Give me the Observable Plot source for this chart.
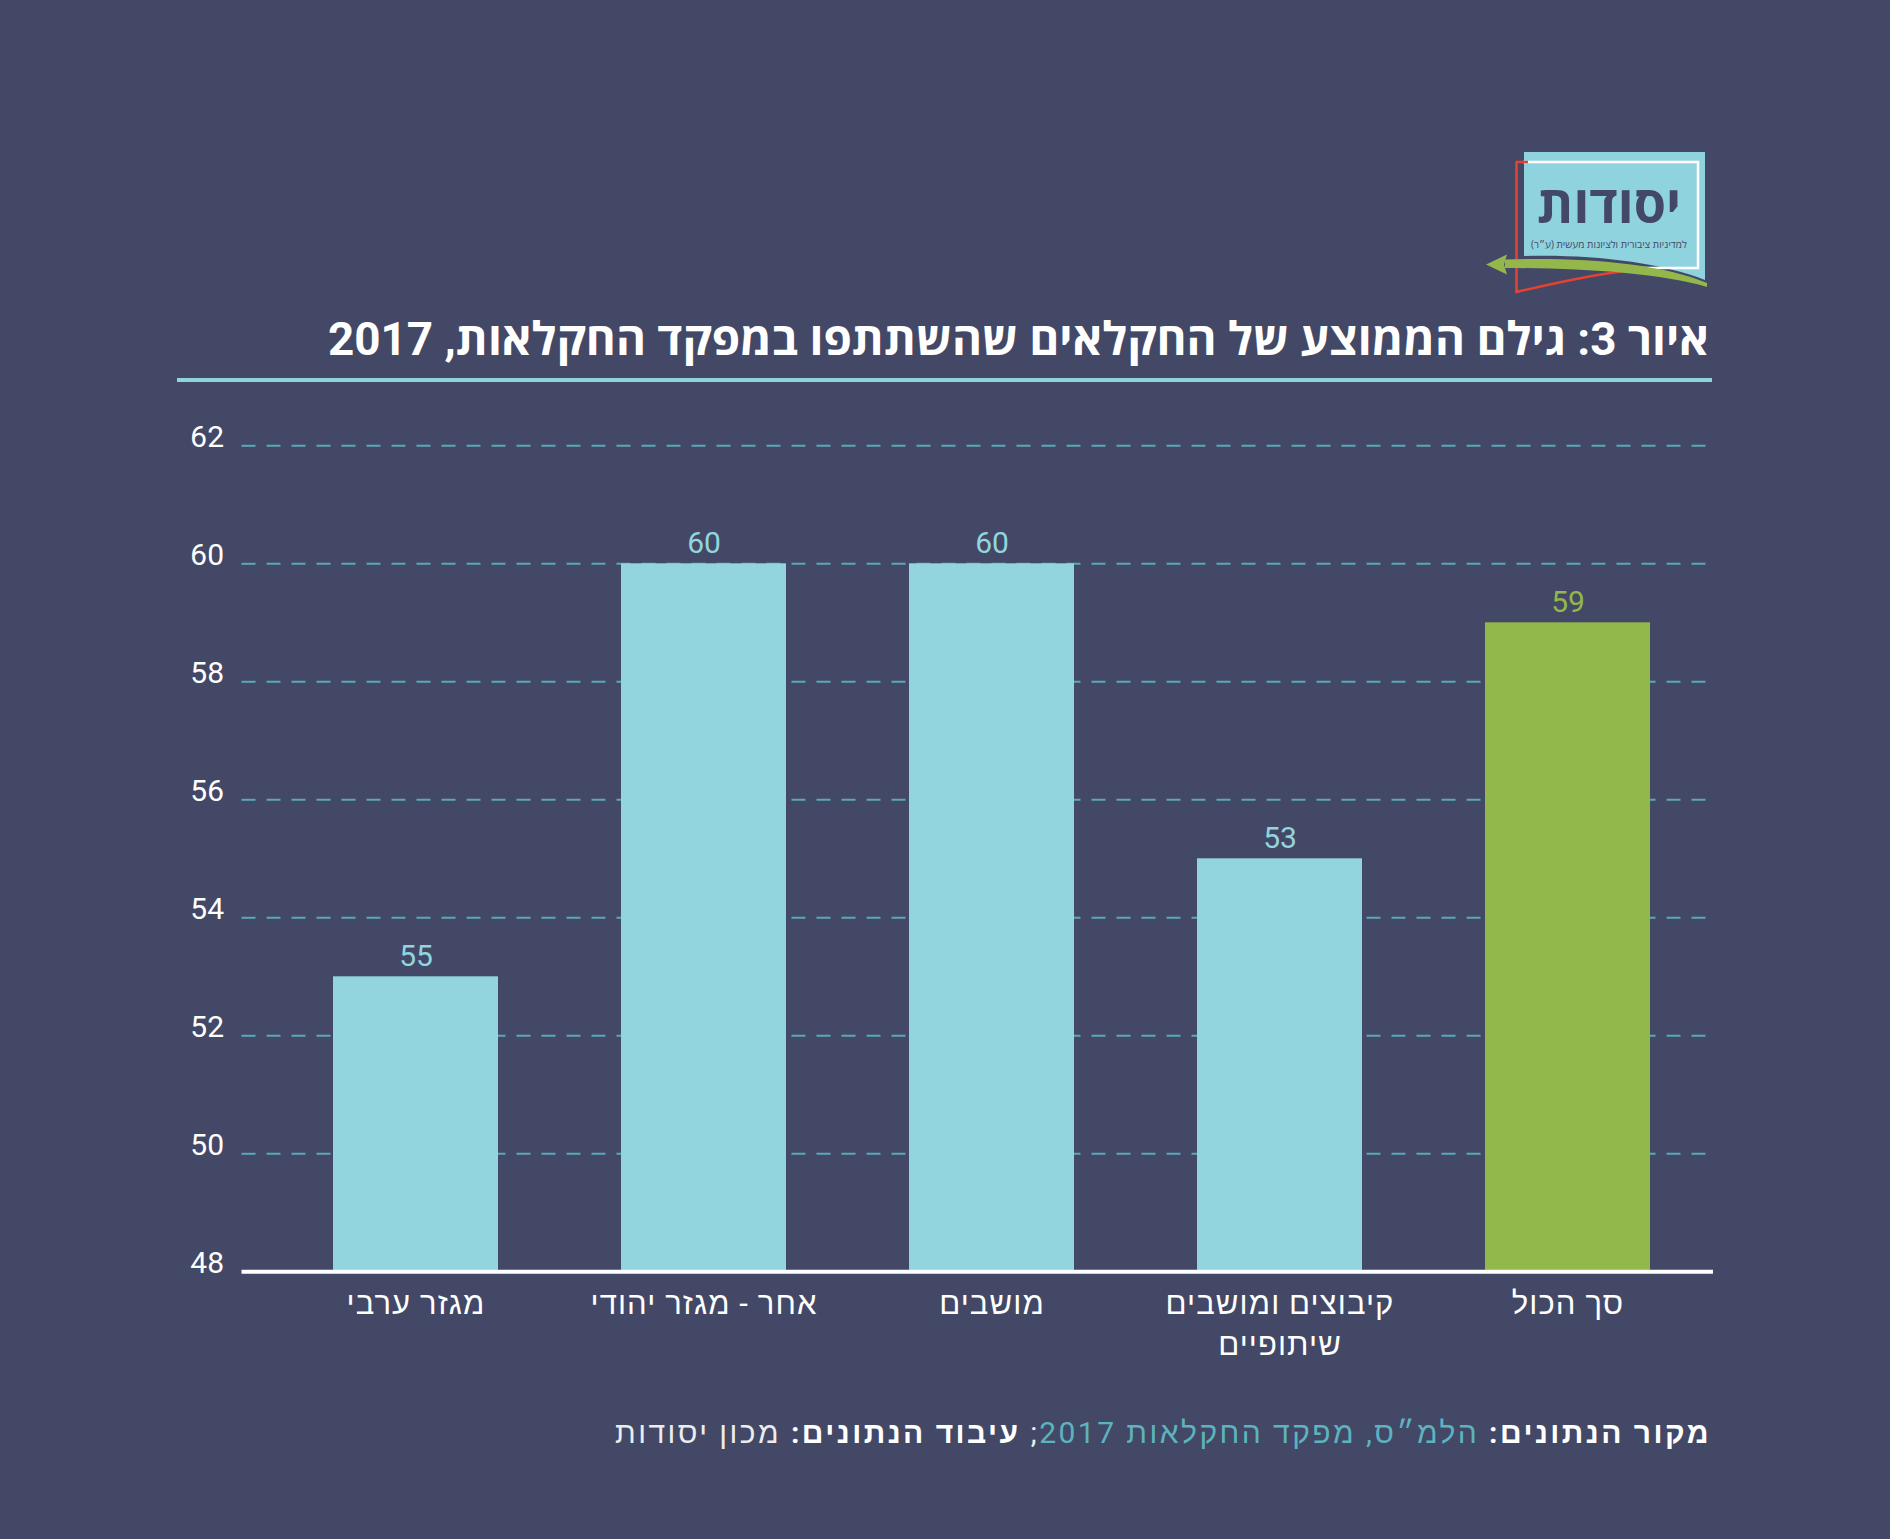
<!DOCTYPE html>
<html lang="he">
<head>
<meta charset="utf-8">
<script src="https://cdn.jsdelivr.net/npm/d3@7"></script>
<script src="https://cdn.jsdelivr.net/npm/@observablehq/plot@0.6"></script>
<style>
  html, body { margin: 0; padding: 0; background: #434867; }
  body { width: 1890px; height: 1539px; position: relative; overflow: hidden;
         font-family: Roboto, "Liberation Sans", sans-serif; }
  #header { position: relative; width: 1890px; height: 400px; }
  #logo { position: absolute; left: 0; top: 0; }
  #title { position: absolute; right: 181px; top: 317px; font-size: 45.8px; line-height: 45px;
           font-family: Roboto, "Open Sans", "Liberation Sans", sans-serif;
           font-weight: 700; color: #ffffff; direction: rtl; white-space: nowrap; }
  #titleRule { position: absolute; left: 177px; width: 1535px; top: 378px; height: 4px; background: #8fd3de; }
  #chart svg { display: block; }
  #caption { position: absolute; right: 179px; top: 1418px; font-size: 30px; line-height: 30px;
             color: #ececec; direction: rtl; white-space: nowrap; }
  #caption b { color: #ffffff; font-weight: 700; }
  #caption .src { color: #5db3be; }
</style>
</head>
<body>
<div id="header">
  <svg id="logo" width="1890" height="400" viewBox="0 0 1890 400">
    <path d="M1524,152 H1705 V280 C1660,262 1590,254 1524,256 Z" fill="#8fd3de"/>
    <polyline points="1600,268 1698,268 1698,162 1523,162" fill="none" stroke="#ffffff" stroke-width="2.5"/>
    <path d="M1528,162 H1516.5 V292 C1555,283 1590,275 1625,271" fill="none" stroke="#e5432f" stroke-width="2.5"/>
    <path d="M1505,259.5 C1580,257 1660,263 1707,283 L1707,287 C1660,273 1580,268 1505,268 Z" fill="#93b74a"/>
    <path d="M1486,264.5 L1507,254.5 L1504,264.5 L1507,274.5 Z" fill="#93b74a"/>
    <text x="1609" y="222.5" text-anchor="middle" font-size="52" font-weight="700" fill="#434867"
          font-family="'Open Sans','Liberation Sans',sans-serif">יסודות</text>
    <text x="1609" y="248" text-anchor="middle" font-size="10" fill="#434867"
          font-family="'Open Sans','Liberation Sans',sans-serif">למדיניות ציבורית ולציונות מעשית (ע״ר)</text>
  </svg>
  <div id="title">איור 3: גילם הממוצע של החקלאים שהשתתפו במפקד החקלאות, 2017</div>
  <div id="titleRule"></div>
</div>
<div id="chart"></div>
<div id="caption"><b>מקור הנתונים:</b> <span class="src">הלמ״ס, מפקד החקלאות 2017</span>; <b>עיבוד הנתונים:</b> מכון יסודות</div>

<script>
// ---- data ----
const categories = ["מגזר ערבי", "אחר - מגזר יהודי", "מושבים", "קיבוצים ומושבים\nשיתופיים", "סך הכול"];
const barHeights = [53, 60, 60, 55, 59];              // bar tops as drawn in the figure
const printedLabels = ["55", "60", "60", "53", "59"]; // value labels as printed above the bars
const yTicks = [48, 50, 52, 54, 56, 58, 60, 62];
const gridTicks = [50, 52, 54, 56, 58, 60, 62];
const totalCategory = "סך הכול";

const data = categories.map((c, i) => ({ category: c, value: barHeights[i], label: printedLabels[i] }));

const BLUE = "#92d5df";
const GREEN = "#92b74a";
const fillOf = d => d.category === totalCategory ? GREEN : BLUE;

const chart = Plot.plot({
  width: 1890,
  height: 980,
  marginLeft: 241.5,
  marginRight: 177,
  marginTop: 45.3,
  marginBottom: 108.7,
  style: { background: "transparent", fontFamily: "Roboto, 'Liberation Sans', sans-serif", overflow: "visible" },
  x: { domain: categories, range: [270, 1712], paddingInner: 0.428, paddingOuter: 0.214, label: null, axis: null },
  y: { domain: [48, 62], label: null, axis: null },
  color: { type: "identity" },
  marks: [
    Plot.gridY(gridTicks, { stroke: "#5aa9b6", strokeOpacity: 1, strokeWidth: 2, strokeDasharray: "14,11" }),
    Plot.barY(data, { x: "category", y1: 48, y2: "value", fill: fillOf }),
    Plot.ruleY([48], { stroke: "#ffffff", strokeWidth: 4 }),
    Plot.axisY(yTicks, { tickSize: 0, tickPadding: 18, fontSize: 30, color: "#ffffff", fill: "#ffffff", dy: -8.3,
                         tickFormat: d => String(d), label: null }),
    Plot.axisX({ tickSize: 0, tickPadding: 14, fontSize: 31, color: "#ffffff", fill: "#ffffff", lineHeight: 1.3, label: null }),
    Plot.text(data, { x: "category", y: "value", text: "label", dy: -10.6, lineAnchor: "bottom", fontSize: 30, fill: fillOf })
  ]
});
document.getElementById("chart").appendChild(chart);

// widen the Hebrew category labels slightly (the original face is wider than the fallback)
d3.select(chart).selectAll("[aria-label='x-axis tick label'] text").style("letter-spacing", "1.1px");

// fit the caption to the width it has in the original
(function fitCaption() {
  const el = document.getElementById("caption");
  const target = 1096;
  const w = el.getBoundingClientRect().width;
  const n = el.textContent.length;
  el.style.letterSpacing = ((target - w) / n) + "px";
})();
</script>
</body>
</html>
